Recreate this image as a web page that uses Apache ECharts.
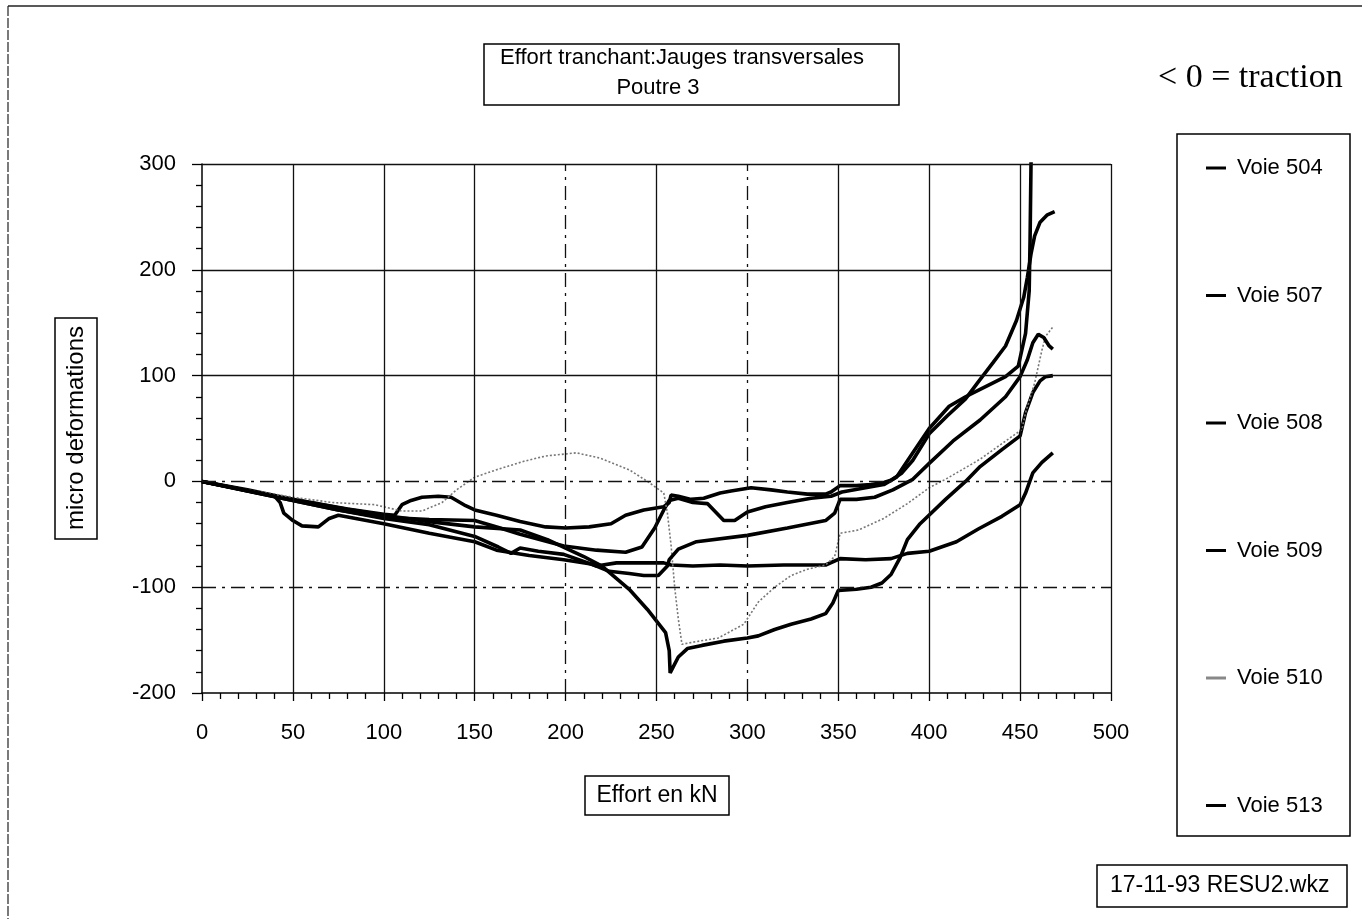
<!DOCTYPE html>
<html>
<head>
<meta charset="utf-8">
<script src="https://cdn.jsdelivr.net/npm/echarts@6/dist/echarts.min.js"></script>
<style>
html,body{margin:0;padding:0;background:#fff;}
#chart{width:1362px;height:919px;}
</style>
</head>
<body>
<div id="chart"></div>
<script>
// ---- Data (x = Effort en kN, y = micro deformations) ----
const seriesNames = ['Voie 504', 'Voie 507', 'Voie 508', 'Voie 509', 'Voie 510', 'Voie 513'];
const xTicks = [0, 50, 100, 150, 200, 250, 300, 350, 400, 450, 500];
const yTicks = [-200, -100, 0, 100, 200, 300];

const voie504 = [[0,0],[20,-7],[40,-14],[60,-20],[80,-26],[100,-31],[106,-32],[110,-22],[115,-18],[121,-15],[130,-14],[137,-15],[145,-23],[150,-27],[162,-32],[175,-38],[189,-43],[200,-44],[213,-43],[225,-40],[233,-32],[243,-27],[254,-24],[257,-20],[258,-13],[262,-14],[269,-17],[276,-16],[285,-11],[291,-9],[302,-6],[313,-8],[322,-10],[333,-12],[343,-12],[346,-10],[351,-4],[360,-4],[368,-3],[375,-1],[379,1],[385,8],[391,20],[400,45],[410,62],[420,78],[427,94],[435,112],[442,128],[448,152],[452,174],[454,193],[456,215],[458,232],[461,245],[465,252],[469,255]];
const voie507 = [[0,0],[25,-9],[50,-18],[75,-27],[100,-34],[125,-36],[150,-37],[164,-44],[175,-50],[199,-61],[217,-65],[233,-67],[242,-62],[249,-44],[254,-27],[257,-18],[262,-16],[270,-20],[278,-21],[287,-37],[293,-37],[300,-29],[310,-24],[322,-20],[335,-16],[346,-14],[352,-10],[365,-6],[375,-3],[382,4],[391,27],[400,50],[411,71],[420,80],[428,87],[442,99],[449,109],[453,140],[455,180],[455.5,230],[456,300],[457,340]];
const voie508 = [[0,0],[25,-8],[50,-17],[75,-25],[100,-32],[125,-38],[150,-43],[175,-46],[190,-55],[200,-63],[210,-71],[220,-80],[235,-102],[245,-121],[255,-143],[257,-160],[257.5,-181],[262,-166],[267,-158],[275,-155],[287,-151],[300,-148],[306,-146],[315,-140],[324,-135],[335,-130],[343,-125],[347,-115],[350,-103],[360,-102],[368,-100],[374,-96],[379,-88],[384,-72],[388,-55],[395,-40],[409,-17],[420,0],[428,14],[440,30],[450,43],[453,65],[457,84],[461,95],[464,99],[468,100]];
const voie509 = [[0,0],[25,-9],[50,-18],[75,-27],[100,-35],[125,-41],[150,-52],[163,-62],[170,-68],[175,-63],[185,-66],[199,-69],[217,-80],[228,-77],[240,-77],[254,-77],[258,-79],[270,-80],[285,-79],[300,-80],[320,-79],[343,-79],[351,-73],[365,-74],[379,-73],[388,-68],[400,-66],[415,-57],[427,-45],[440,-33],[450,-22],[453,-11],[457,8],[462,18],[468,27]];
const voie510 = [[0,0],[25,-8],[50,-15],[72,-20],[95,-22],[110,-28],[121,-28],[132,-20],[140,-8],[150,4],[162,11],[177,19],[189,24],[206,27],[219,22],[235,11],[245,0],[254,-11],[256,-30],[258,-60],[260,-100],[262,-130],[264,-154],[270,-152],[284,-148],[298,-135],[306,-114],[315,-100],[324,-89],[333,-83],[343,-79],[348,-71],[351,-49],[361,-46],[375,-35],[388,-21],[400,-6],[409,2],[428,21],[446,43],[451,49],[453,65],[458,93],[462,124],[464,137],[468,146]];
const voie513 = [[0,0],[20,-7],[40,-14],[43,-20],[45,-30],[50,-37],[55,-42],[64,-43],[70,-35],[75,-32],[100,-40],[125,-49],[150,-57],[162,-65],[180,-70],[199,-74],[214,-78],[224,-85],[235,-87],[243,-89],[251,-89],[256,-80],[257,-74],[262,-64],[272,-57],[300,-51],[322,-44],[343,-37],[348,-30],[351,-17],[360,-17],[370,-15],[380,-8],[391,2],[400,17],[413,38],[428,58],[442,80],[450,99],[454,115],[457,131],[460,139],[463,136],[466,128],[468,125]];

// grid line values
const hGridSolid = [100, 200, 300];
const hGridDashed = [0, -100];
const vGridSolid = [50, 100, 150, 250, 350, 400, 450, 500];
const vGridDashed = [200, 300];

const chart = echarts.init(document.getElementById('chart'), null, {renderer: 'canvas'});
const SANS = '"Liberation Sans", Arial, sans-serif';
const dashDot = [14, 6, 3, 6];

const gridLines = [];
hGridSolid.forEach(v => gridLines.push({yAxis: v, lineStyle: {type: 'solid'}}));
hGridDashed.forEach(v => gridLines.push({yAxis: v, lineStyle: {type: dashDot}}));
vGridSolid.forEach(v => gridLines.push({xAxis: v, lineStyle: {type: 'solid'}}));
vGridDashed.forEach(v => gridLines.push({xAxis: v, lineStyle: {type: dashDot}}));

const dataSets = [voie504, voie507, voie508, voie509, voie510, voie513];
const series = [{
  type: 'line', name: '_grid', data: [], silent: true, z: 1,
  markLine: {
    silent: true, symbol: ['none', 'none'], animation: false,
    label: {show: false},
    lineStyle: {color: '#111', width: 1.3},
    emphasis: {disabled: true},
    data: gridLines
  }
}];
seriesNames.forEach((n, i) => {
  const dotted = n === 'Voie 510';
  series.push({
    type: 'line', name: n, data: dataSets[i], showSymbol: false, symbol: 'none',
    z: 3, clip: true,
    lineStyle: dotted ? {color: '#777', width: 1.6, type: [2, 2]} : {color: '#000', width: 3.6},
    itemStyle: {color: dotted ? '#888' : '#000'},
    emphasis: {disabled: true}
  });
});

const option = {
  animation: false,
  backgroundColor: '#fff',
  grid: {left: 202, right: 251, top: 164, bottom: 226, containLabel: false},
  xAxis: {
    type: 'value', min: 0, max: 500, interval: 50,
    axisLine: {show: true, onZero: false, lineStyle: {color: '#000', width: 1.5}},
    axisTick: {show: true, inside: false, length: 8, lineStyle: {color: '#000', width: 1.3}},
    minorTick: {show: true, splitNumber: 5, length: 6, lineStyle: {color: '#000', width: 1.3}},
    axisLabel: {color: '#000', fontSize: 22, fontFamily: SANS, margin: 29},
    splitLine: {show: false}
  },
  yAxis: {
    type: 'value', min: -200, max: 300, interval: 100,
    axisLine: {show: true, onZero: false, lineStyle: {color: '#000', width: 1.5}},
    axisTick: {show: true, inside: false, length: 10, lineStyle: {color: '#000', width: 1.3}},
    minorTick: {show: true, splitNumber: 5, length: 6, lineStyle: {color: '#000', width: 1.3}},
    axisLabel: {color: '#000', fontSize: 22, fontFamily: SANS, margin: 26},
    splitLine: {show: false}
  },
  legend: {
    orient: 'vertical', left: 1201, top: 152,
    data: seriesNames,
    icon: 'rect', itemWidth: 20, itemHeight: 3, itemGap: 105.5,
    textStyle: {color: '#000', fontSize: 22, fontFamily: SANS, lineHeight: 22, padding: [0, 0, 0, 6]},
    selectedMode: false
  },
  series: series,
  graphic: [
    // outer frame lines
    {type: 'line', shape: {x1: 8, y1: 6, x2: 1362, y2: 6}, style: {stroke: '#222', lineWidth: 1.5}},
    {type: 'line', shape: {x1: 8, y1: 6, x2: 8, y2: 919}, style: {stroke: '#222', lineWidth: 1.2, lineDash: [10, 2]}},
    // title box
    {type: 'rect', shape: {x: 484, y: 44, width: 415, height: 61}, style: {fill: '#fff', stroke: '#000', lineWidth: 1.5}},
    {type: 'text', x: 682, y: 58, style: {text: 'Effort tranchant:Jauges transversales', fontSize: 22, fontFamily: SANS, fill: '#000', align: 'center', verticalAlign: 'middle'}},
    {type: 'text', x: 658, y: 88, style: {text: 'Poutre 3', fontSize: 22, fontFamily: SANS, fill: '#000', align: 'center', verticalAlign: 'middle'}},
    // traction note
    {type: 'text', x: 1158, y: 78, style: {text: '< 0 = traction', fontSize: 34, fontFamily: '"Liberation Serif", "Times New Roman", serif', fill: '#000', align: 'left', verticalAlign: 'middle'}},
    // legend box
    {type: 'rect', shape: {x: 1177, y: 134, width: 173, height: 702}, style: {fill: 'none', stroke: '#000', lineWidth: 1.5}},
    // footer
    {type: 'rect', shape: {x: 1097, y: 865, width: 250, height: 42}, style: {fill: '#fff', stroke: '#000', lineWidth: 1.5}},
    {type: 'text', x: 1110, y: 886, style: {text: '17-11-93 RESU2.wkz', fontSize: 23, fontFamily: SANS, fill: '#000', align: 'left', verticalAlign: 'middle'}},
    // y axis name box
    {type: 'rect', shape: {x: 55, y: 318, width: 42, height: 221}, style: {fill: '#fff', stroke: '#000', lineWidth: 1.5}},
    {type: 'text', x: 76, y: 428, rotation: Math.PI / 2, style: {text: 'micro deformations', fontSize: 24, fontFamily: SANS, fill: '#000', align: 'center', verticalAlign: 'middle'}},
    // x axis name box
    {type: 'rect', shape: {x: 585, y: 776, width: 144, height: 39}, style: {fill: '#fff', stroke: '#000', lineWidth: 1.5}},
    {type: 'text', x: 657, y: 796, style: {text: 'Effort en kN', fontSize: 23, fontFamily: SANS, fill: '#000', align: 'center', verticalAlign: 'middle'}}
  ]
};
chart.setOption(option);
</script>
</body>
</html>
